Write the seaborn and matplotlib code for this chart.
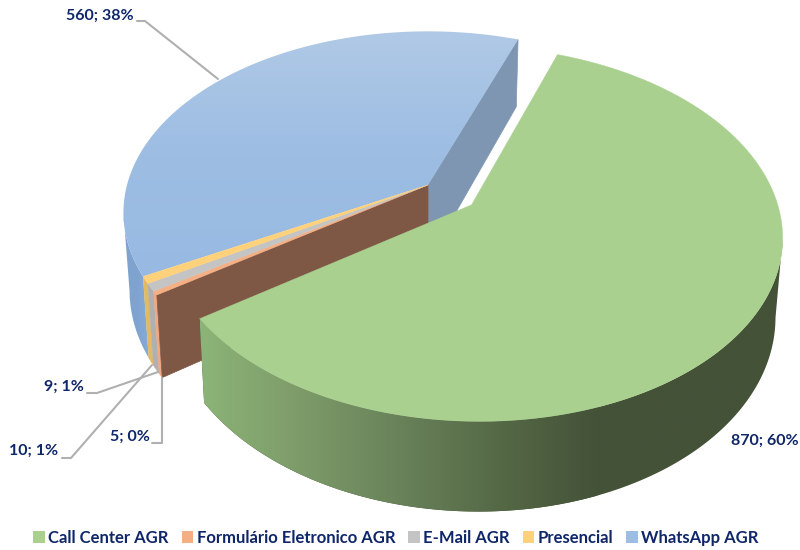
import numpy as np
import matplotlib
matplotlib.use("Agg")
import matplotlib.pyplot as plt
from matplotlib.patches import Patch, Polygon
import seaborn as sns

canais = ["Call Center AGR", "Formulário Eletronico AGR", "E-Mail AGR", "Presencial", "WhatsApp AGR"]
valores = [870, 5, 10, 9, 560]
percentuais = [60, 0, 1, 1, 38]

cores_topo = ["#a9d08e", "#f4b084", "#c4c4c4", "#ffd17a", "#9dbde3"]
cor_texto = "#0f2668"

# pie geometry, in pixels of the 800x550 picture
CENTRO = (428, 185)
RAIO_X, RAIO_Y = 301, 177
PERSP = 0.152
EXPLODE = 0.18
INICIO = 20.0


def projeta(u, v, fundo=False):
    """Unit-circle coordinates to picture pixels, top ring or bottom ring."""
    w = 1 - PERSP * v
    x = RAIO_X * u / w
    y = RAIO_Y * v / w
    if fundo:
        x = x * 0.98
        y = y * 1.06 + 76
    return CENTRO[0] + x, CENTRO[1] + y


def fatia(ini, fim, desloc=0.0, mid=None):
    ang = np.radians(np.linspace(ini, fim, max(int(fim - ini) * 2, 4)))
    mid = np.radians((ini + fim) / 2) if mid is None else np.radians(mid)
    return np.sin(ang) + desloc * np.sin(mid), -np.cos(ang) - desloc * np.cos(mid)


def preenche(ax, pts, cores, eixo, z):
    # polygon filled with a gradient along x or y
    xs, ys = zip(*pts)
    cmap = sns.blend_palette(cores, 256, as_cmap=True)
    grad = np.linspace(0, 1, 256).reshape(1, -1) if eixo == "x" else np.linspace(0, 1, 256).reshape(-1, 1)
    contorno = Polygon(pts, closed=True, facecolor="none", edgecolor="none", zorder=z)
    ax.add_patch(contorno)
    img = ax.imshow(grad, cmap=cmap, extent=(min(xs), max(xs), max(ys), min(ys)), aspect="auto", zorder=z)
    img.set_clip_path(contorno)


def parede(ini, fim, desloc=0.0, mid=None):
    u, v = fatia(ini, fim, desloc, mid)
    topo = list(zip(*projeta(u, v)))
    base = list(zip(*projeta(u, v, fundo=True)))
    return topo + base[::-1]


def extremo(ini, fim, func, desloc=0.0, mid=None):
    # angle where the top ring reaches its outermost x, the wall silhouette starts there
    ang = np.linspace(ini, fim, max(int(fim - ini) * 2, 4))
    u, v = fatia(ini, fim, desloc, mid)
    return ang[func(projeta(u, v)[0])]


def face_interna(ax, ang, cor, z):
    u, v = np.sin(np.radians(ang)), -np.cos(np.radians(ang))
    pts = [projeta(0, 0), projeta(u, v), projeta(u, v, True), projeta(0, 0, True)]
    ax.add_patch(Polygon(pts, closed=True, facecolor=cor, edgecolor=cor, linewidth=0.5, zorder=z))


sns.set_style("white")
plt.rcParams["font.family"] = ["Lato", "DejaVu Sans"]

fig = plt.figure(figsize=(8, 5.5), dpi=100)
ax = fig.add_axes([0, 0, 1, 1])

angulos = np.cumsum([0] + valores) / sum(valores) * 360 + INICIO

# walls of the slices that stay in the centre
lim_azul = extremo(angulos[4], angulos[5], np.argmin)
preenche(ax, parede(angulos[4], lim_azul), ["#7fa3cf", "#7fa3cf", "#86abd8"], "x", 2)
for i, cor in zip([3, 2, 1], ["#e2ba62", "#b0b0b0", "#f0a883"]):
    ax.add_patch(Polygon(parede(angulos[i], angulos[i + 1]), closed=True, facecolor=cor, edgecolor=cor,
                         linewidth=0.3, zorder=2))

# cut faces
face_interna(ax, angulos[5], "#7f96b2", 3)
face_interna(ax, angulos[1], "#7e5745", 3)

# top of the centre slices
for i in [1, 2, 3]:
    u, v = fatia(angulos[i], angulos[i + 1])
    pts = [projeta(0, 0)] + list(zip(*projeta(u, v)))
    ax.add_patch(Polygon(pts, closed=True, facecolor=cores_topo[i], edgecolor=cores_topo[i], linewidth=0.3, zorder=5))

u, v = fatia(angulos[4], angulos[5])
pts = [projeta(0, 0)] + list(zip(*projeta(u, v)))
preenche(ax, pts, ["#b0c9e6", "#9dbde3", "#98bae2"], "y", 4)

# green slice, pulled out of the pie
meio = (angulos[0] + angulos[1]) / 2
lim_verde = extremo(angulos[0], angulos[1], np.argmax, EXPLODE, meio)
pts_parede = parede(lim_verde, angulos[1], EXPLODE, meio)
preenche(ax, pts_parede, ["#445238", "#445238"], "x", 6)
frente = [p for p in pts_parede if p[0] < 600]
preenche(ax, frente, ["#8cb478", "#7d9b69", "#69825a", "#556946", "#445238"], "x", 6)
u, v = fatia(angulos[0], angulos[1], EXPLODE)
mid = np.radians(meio)
pts = [projeta(EXPLODE * np.sin(mid), -EXPLODE * np.cos(mid))] + list(zip(*projeta(u, v)))
ax.add_patch(Polygon(pts, closed=True, facecolor=cores_topo[0], edgecolor=cores_topo[0], linewidth=0.3, zorder=7))

ax.set_xlim(0, 800)
ax.set_ylim(550, 0)
ax.axis("off")

# data labels and leader lines
rotulos = [f"{v}; {p}%" for v, p in zip(valores, percentuais)]
pos_rotulos = [(765, 441), (130, 437), (34, 451), (64, 387), (100, 16)]
lideres = [
    None,
    [(152, 443), (162, 443), (162, 378)],
    [(62, 458), (71, 458), (152, 365)],
    [(87, 393), (97, 393), (158, 372)],
    [(137, 21), (145, 21), (218, 79)],
]
for i, rot in enumerate(rotulos):
    ax.text(*pos_rotulos[i], rot, color=cor_texto, fontsize=11.5, fontweight="bold", ha="center", va="center", zorder=9)
    if lideres[i] is not None:
        xs, ys = zip(*lideres[i])
        ax.plot(xs, ys, color="#b0b0b0", lw=1.5, zorder=8)

handles = [Patch(facecolor=c, edgecolor="none") for c in cores_topo]
leg = ax.legend(handles, canais, loc="center", bbox_to_anchor=(396 / 800, 1 - 538 / 550), ncol=5, frameon=False,
                handlelength=0.7, handleheight=0.7, handletextpad=0.2, columnspacing=0.78,
                prop={"weight": "bold", "size": 12})
for t in leg.get_texts():
    t.set_color(cor_texto)

fig.savefig("out.png", dpi=100, facecolor="white")
